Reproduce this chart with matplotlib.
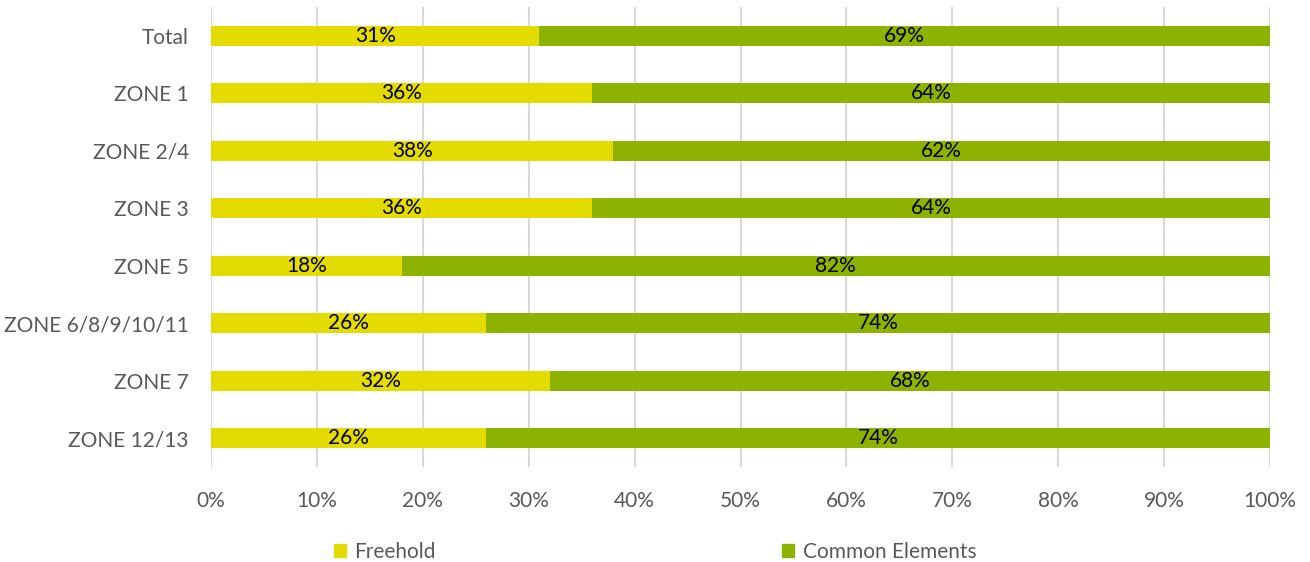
import matplotlib
matplotlib.use("Agg")
import matplotlib.pyplot as plt
from matplotlib.patches import Patch

categories = ["Total", "ZONE 1", "ZONE 2/4", "ZONE 3", "ZONE 5",
              "ZONE 6/8/9/10/11", "ZONE 7", "ZONE 12/13"]
freehold = [31, 36, 38, 36, 18, 26, 32, 26]
common = [69, 64, 62, 64, 82, 74, 68, 74]
series_names = ["Freehold", "Common Elements"]
xticks = [0, 10, 20, 30, 40, 50, 60, 70, 80, 90, 100]

c_yellow = "#E4DC00"
c_green = "#8DB300"
txt = "#595959"

plt.rcParams['font.family'] = ['Lato', 'DejaVu Sans']

fig = plt.figure(figsize=(13.1, 5.62), dpi=100)
ax = fig.add_axes([211/1310, 1-467/562, 1059/1310, 460/562])

y = list(range(len(categories)))
h = 0.35
ax.barh(y, freehold, height=h, color=c_yellow, label=series_names[0], zorder=3)
ax.barh(y, common, left=freehold, height=h, color=c_green, label=series_names[1], zorder=3)

for yi, f, c in zip(y, freehold, common):
    ax.text(f/2, yi, f"{f}%", ha="center", va="center", fontsize=15, color="black", zorder=4)
    ax.text(f + c/2, yi, f"{c}%", ha="center", va="center", fontsize=15, color="black", zorder=4)

ax.set_xlim(0, 100)
ax.set_ylim(len(categories)-0.5, -0.5)
ax.set_yticks(y)
ax.set_yticklabels(categories, fontsize=15, color=txt)
ax.set_xticks(xticks)
ax.set_xticklabels([f"{t}%" for t in xticks], fontsize=15, color=txt)
ax.grid(axis="x", color="#D9D9D9", linewidth=1.5, zorder=0)
ax.tick_params(axis="both", length=0)
ax.tick_params(axis="x", pad=17)
ax.tick_params(axis="y", pad=16)
for s in ax.spines.values():
    s.set_visible(False)

handles = [Patch(color=c_yellow), Patch(color=c_green)]
fig.legend(handles, series_names, loc="center", bbox_to_anchor=(0.5, 1-552/562),
           ncol=2, frameon=False, fontsize=15, labelcolor=txt,
           handlelength=0.6, handleheight=0.6, handletextpad=0.4, columnspacing=16.6)

fig.savefig("out.png", dpi=100)
